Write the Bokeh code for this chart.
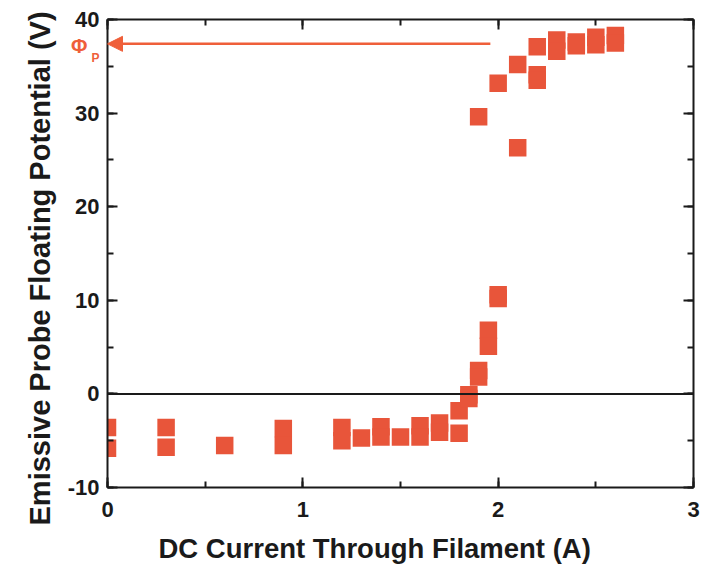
import math
from bokeh.plotting import figure
from bokeh.models import (Range1d, LinearAxis, SingleIntervalTicker, FixedTicker, Span,
                          Arrow, NormalHead, Title, ColumnDataSource)
from bokeh.embed import file_html
from bokeh.resources import INLINE

# ---- data ----
current_a = [0.0, 0.0, 0.3, 0.3, 0.6, 0.9, 0.9, 1.2, 1.2, 1.3, 1.4, 1.4, 1.5,
             1.6, 1.6, 1.7, 1.7, 1.8, 1.8, 1.85, 1.85, 1.9, 1.9, 1.95, 1.95,
             2.0, 2.0, 1.9, 2.0, 2.1, 2.1, 2.2, 2.2, 2.2, 2.3, 2.3, 2.4, 2.4,
             2.5, 2.5, 2.6, 2.6]
potential_v = [-3.6, -5.8, -3.6, -5.7, -5.5, -3.7, -5.5, -3.6, -5.0, -4.7, -3.5,
               -4.6, -4.6, -3.4, -4.6, -3.1, -4.1, -1.8, -4.2, -0.1, -0.5, 2.5,
               1.8, 6.8, 5.1, 10.6, 10.2, 29.6, 33.2, 35.2, 26.3, 37.1, 34.1,
               33.5, 37.8, 36.6, 37.6, 37.2, 38.1, 37.3, 38.3, 37.5]
x_ticks = [0, 1, 2, 3]
y_ticks = [-10, 0, 10, 20, 30, 40]
plasma_potential = 37.4          # level marked by the arrow (Phi_P)
arrow_from_current = 1.96
arrow_to_current = 0.0

x_title = "DC Current Through Filament (A)"
y_title = "Emissive Probe Floating Potential (V)"

MARK = "#E8553A"
ARROW = "#EF5F3A"
INK = "#1a1a1a"
FONT = "Liberation Sans"

p = figure(width=703, height=581, output_backend="svg", toolbar_location=None,
           x_range=Range1d(x_ticks[0], x_ticks[-1]),
           y_range=Range1d(y_ticks[0], y_ticks[-1]),
           min_border_left=107, min_border_right=10, min_border_top=19,
           min_border_bottom=94, x_axis_type=None, y_axis_type=None)
p.outline_line_color = None
p.xgrid.visible = False
p.ygrid.visible = False
p.background_fill_color = "white"
p.border_fill_color = "white"


def style_axis(ax, show_labels, standoff):
    ax.axis_line_color = INK
    ax.axis_line_width = 2
    ax.major_tick_line_color = INK
    ax.major_tick_line_width = 2
    ax.minor_tick_line_color = INK
    ax.minor_tick_line_width = 2
    ax.major_tick_in = 10
    ax.major_tick_out = 0
    ax.minor_tick_in = 6
    ax.minor_tick_out = 0
    ax.major_label_text_font = FONT
    ax.major_label_text_font_style = "bold"
    ax.major_label_text_color = INK
    ax.major_label_standoff = standoff
    if show_labels:
        ax.major_label_text_font_size = "22px"
    else:
        ax.major_label_text_font_size = "0px"
        ax.major_label_text_color = None


xt = dict(interval=1, num_minor_ticks=2)
yt = dict(interval=10, num_minor_ticks=2)

bx = LinearAxis(ticker=SingleIntervalTicker(**xt))
style_axis(bx, True, 14)
p.add_layout(bx, "below")
tx = LinearAxis(ticker=SingleIntervalTicker(**xt))
style_axis(tx, False, 0)
p.add_layout(tx, "above")
ly = LinearAxis(ticker=SingleIntervalTicker(**yt))
style_axis(ly, True, 8)
ly.major_label_overrides = {t: str(t) for t in y_ticks}
p.add_layout(ly, "left")
ry = LinearAxis(ticker=SingleIntervalTicker(**yt))
style_axis(ry, False, 0)
p.add_layout(ry, "right")


# Phi_P marker text: label-only axes whose labels are pulled back (negative
# standoff) into the tick-label column, next to the arrow head
def marker_axis(level, text, size, standoff):
    ax = LinearAxis(ticker=FixedTicker(ticks=[level], minor_ticks=[]))
    ax.axis_line_color = None
    ax.major_tick_line_color = None
    ax.minor_tick_line_color = None
    ax.major_tick_in = 0
    ax.major_tick_out = 0
    ax.minor_tick_in = 0
    ax.minor_tick_out = 0
    ax.major_label_overrides = {level: text}
    ax.major_label_text_font = FONT
    ax.major_label_text_font_style = "bold"
    ax.major_label_text_font_size = size
    ax.major_label_text_color = ARROW
    ax.major_label_standoff = standoff
    p.add_layout(ax, "left")


marker_axis(plasma_potential - 0.2, "Φ", "20px", -23)
marker_axis(plasma_potential - 1.5, "P", "12px", -35)

# axis titles
p.add_layout(Title(text=y_title, align="left", offset=-38, standoff=17,
                   text_font=FONT, text_font_style="bold", text_font_size="29px",
                   text_color=INK), "left")
p.add_layout(Title(text=x_title, align="left", offset=51, standoff=22,
                   text_font=FONT, text_font_style="bold", text_font_size="27.5px",
                   text_color=INK), "below")

# zero line
p.add_layout(Span(location=0, dimension="width", line_color=INK, line_width=2))

src = ColumnDataSource(dict(x=current_a, y=potential_v))
p.scatter("x", "y", source=src, marker="square", size=17.5,
          fill_color=MARK, line_color=None)

# plasma potential arrow
p.add_layout(Arrow(end=NormalHead(size=15, fill_color=ARROW, line_color=ARROW),
                   x_start=arrow_from_current, y_start=plasma_potential,
                   x_end=arrow_to_current, y_end=plasma_potential,
                   line_color=ARROW, line_width=2.5))

open("out.html", "w").write(file_html(p, INLINE))
